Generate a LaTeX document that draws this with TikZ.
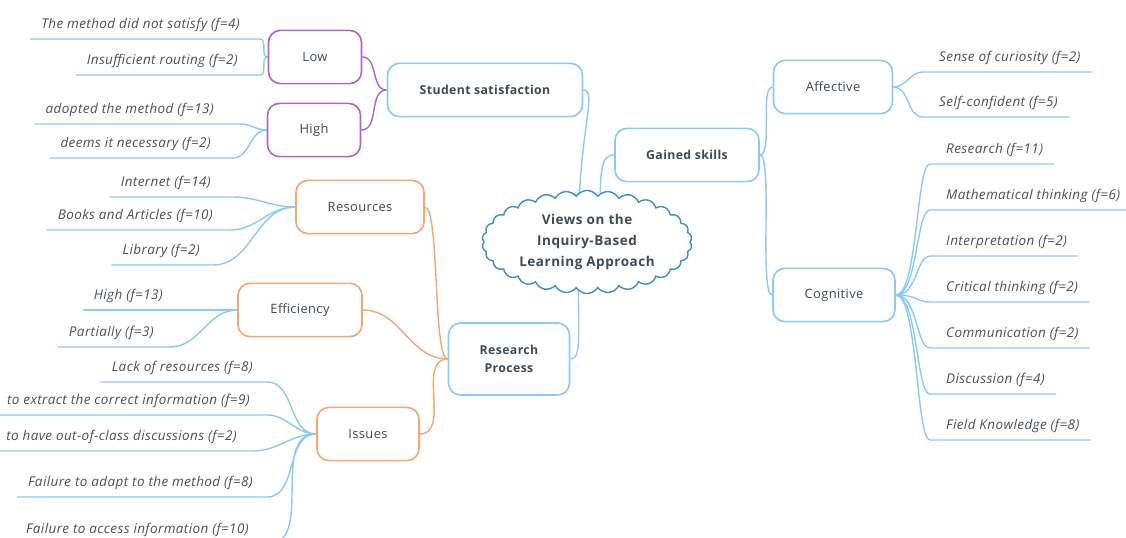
\documentclass[tikz,border=0pt]{standalone}
\usepackage{fontspec}
\setmainfont{Open Sans}[LetterSpace=3]
\newfontfamily\cloudfont[LetterSpace=4]{Open Sans}
\usetikzlibrary{shapes.symbols,backgrounds}

\definecolor{mapblue}{HTML}{88CBF8}
\definecolor{mappurple}{HTML}{B462CB}
\definecolor{maporange}{HTML}{F8A571}
\definecolor{cloudblue}{HTML}{3D8FC6}
\definecolor{boxtext}{HTML}{3F4A55}
\definecolor{leaftext}{HTML}{4A5159}

\tikzset{
  box/.style={draw, fill=white, rounded corners=0.36cm, line width=1.4pt,
    minimum height=1.6cm, text=boxtext, font=\fontsize{11}{13}\selectfont},
  head/.style={font=\fontsize{10.5}{15}\selectfont\bfseries},
  leaf/.style={inner xsep=0.33cm, inner ysep=0.2cm, text height=0.3cm,
    text depth=0.1cm, text=leaftext, font=\fontsize{11.5}{13}\selectfont\itshape},
  bl/.style={mapblue, line width=1.2pt},
  pl/.style={mappurple, line width=1.2pt},
  ol/.style={maporange, line width=1.2pt},
  fan/.style={out=0, in=180, out distance=0.66cm, in distance=0.42cm},
}

\begin{document}
\begin{tikzpicture}[x=0.03cm, y=-0.03cm]
  \useasboundingbox (0,0) rectangle (1126,538);

  \node[cloud, cloud puffs=30, cloud puff arc=115, aspect=2.2, draw=cloudblue,
    fill=white, line width=1.2pt, minimum width=6.3cm, minimum height=2.9cm,
    align=center, text=boxtext,
    font=\cloudfont\fontsize{11.5}{17.9}\selectfont\bfseries] (root) at (587,242)
    {Views on the\\Inquiry-Based\\Learning Approach};

  \node[box, head, draw=mapblue, minimum width=5.85cm] (ss) at (485,90) {Student satisfaction};
  \node[box, head, draw=mapblue, minimum width=4.32cm] (gs) at (687,155) {Gained skills};
  \node[box, head, draw=mapblue, minimum width=3.63cm, minimum height=2.16cm, align=center] (rp) at (509,359) {Research\\Process};
  \node[box, draw=mapblue, minimum width=3.57cm] (aff) at (833,87) {Affective};
  \node[box, draw=mapblue, minimum width=3.66cm] (cog) at (834,295) {Cognitive};
  \node[box, draw=mappurple, minimum width=2.79cm] (low) at (315,57) {Low};
  \node[box, draw=mappurple, minimum width=2.79cm] (high) at (314,130) {High};
  \node[box, draw=maporange, minimum width=3.84cm] (res) at (360,207) {Resources};
  \node[box, draw=maporange, minimum width=3.72cm] (eff) at (300,310) {Efficiency};
  \node[box, draw=maporange, minimum width=3.06cm] (iss) at (368,434) {Issues};

  \node[leaf, anchor=south east] (low1) at (251,39) {The method did not satisfy (f=4)};
  \node[leaf, anchor=south east] (low2) at (249,75) {Insufficient routing (f=2)};
  \node[leaf, anchor=south east] (high1) at (225,124) {adopted the method (f=13)};
  \node[leaf, anchor=south east] (high2) at (222,158) {deems it necessary (f=2)};
  \node[leaf, anchor=south east] (res1) at (222,197) {Internet (f=14)};
  \node[leaf, anchor=south east] (res2) at (224,230) {Books and Articles (f=10)};
  \node[leaf, anchor=south east] (res3) at (211,265) {Library (f=2)};
  \node[leaf, anchor=south east] (eff1) at (174,310) {High (f=13)};
  \node[leaf, anchor=south east] (eff2) at (165,347) {Partially (f=3)};
  \node[leaf, anchor=south east] (iss1) at (264,382) {Lack of resources (f=8)};
  \node[leaf, anchor=south east] (iss2) at (261,415) {to extract the correct information (f=9)};
  \node[leaf, anchor=south east] (iss3) at (248,451) {to have out-of-class discussions (f=2)};
  \node[leaf, anchor=south east] (iss4) at (264,497) {Failure to adapt to the method (f=8)};
  \node[leaf, anchor=south east] (iss5) at (260,544) {Failure to access information (f=10)};

  \node[leaf, anchor=south west] (a1) at (928,72) {Sense of curiosity (f=2)};
  \node[leaf, anchor=south west] (a2) at (928,117) {Self-confident (f=5)};
  \foreach \t [count=\i] in {Research (f=11), Mathematical thinking (f=6),
      Interpretation (f=2), Critical thinking (f=2), Communication (f=2),
      Discussion (f=4), Field Knowledge (f=8)}
    \node[leaf, anchor=south west] (c\i) at (935,118+46*\i) {\t};

  \begin{scope}[on background layer]
    \draw[bl] ([xshift=-0.27cm]root.center) .. controls +(0,-110) and +(15,0) .. (ss.east);
    \draw[bl] ([xshift=0.39cm]root.center) .. controls +(0,-70) and +(-15,0) .. (gs.west);
    \draw[bl] ([xshift=-0.27cm]root.center) .. controls +(0,95) and +(12,0) .. (rp.east);
    \draw[bl] (gs.east) to[out=0, in=180, distance=0.4cm] (aff.west);
    \draw[bl] (gs.east) to[out=0, in=180, distance=0.4cm] (cog.west);
    \foreach \n in {a1,a2}
      \draw[bl] (aff.east) to[out=0, in=180] ([xshift=-0.15cm]\n.south west) -- (\n.south east);
    \foreach \i in {1,...,7}
      \draw[bl] (cog.east) to[fan] ([xshift=-0.15cm]c\i.south west) -- (c\i.south east);

    \draw[pl] (ss.west) to[out=180, in=0] (low.east);
    \draw[pl] (ss.west) to[out=180, in=0] (high.east);
    \foreach \n/\d in {low1/0.27, low2/0.33}
      \draw[bl] (low.west) to[out=180, in=0] ([xshift=\d cm]\n.south east) -- (\n.south west);
    \foreach \n/\d in {high1/0.45, high2/0.33}
      \draw[bl] (high.west) to[out=180, in=0] ([xshift=\d cm]\n.south east) -- (\n.south west);

    \draw[ol] (rp.west) to[out=180, in=0, distance=0.45cm] (res.east);
    \draw[ol] (rp.west) to[out=180, in=0] (eff.east);
    \draw[ol] (rp.west) to[out=180, in=0] (iss.east);
    \foreach \n/\d in {res1/0.33, res2/0.18, res3/0.06}
      \draw[bl] (res.west) to[out=180, in=0] ([xshift=\d cm]\n.south east) -- (\n.south west);
    \foreach \n/\d in {eff1/1.17, eff2/0.15}
      \draw[bl] (eff.west) to[out=180, in=0] ([xshift=\d cm]\n.south east) -- (\n.south west);
    \foreach \n/\d in {iss1/0.09, iss2/0.18, iss3/0.15, iss4/0.09, iss5/0.24}
      \draw[bl] (iss.west) to[out=180, in=0] ([xshift=\d cm]\n.south east) -- (\n.south west);
  \end{scope}
\end{tikzpicture}
\end{document}
